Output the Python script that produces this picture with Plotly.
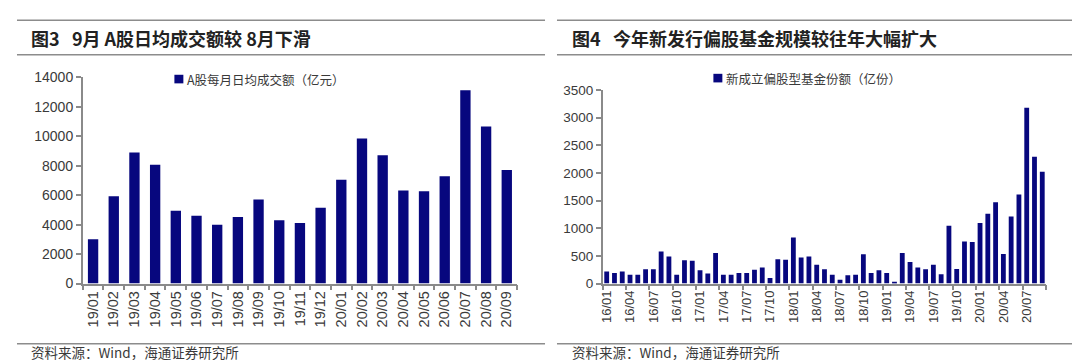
import plotly.graph_objects as go

# ---- Left chart data: A股每月日均成交额（亿元）
left_months = ["19/01", "19/02", "19/03", "19/04", "19/05", "19/06", "19/07", "19/08",
               "19/09", "19/10", "19/11", "19/12", "20/01", "20/02", "20/03", "20/04",
               "20/05", "20/06", "20/07", "20/08", "20/09"]
left_values = [3005, 5925, 8910, 8070, 4950, 4610, 4000, 4520, 5710, 4300, 4110,
               5150, 7050, 9860, 8720, 6315, 6275, 7290, 13130, 10660, 7720]
left_series_name = "A股每月日均成交额（亿元）"
left_title = "图3\u00a0\u00a0\u00a09月\u00a0A股日均成交额较\u00a08月下滑"

# ---- Right chart data: 新成立偏股型基金份额（亿份）
right_months = [f"{y}/{m:02d}" for y in (16, 17, 18, 19) for m in range(1, 13)] + \
               [f"20/{m:02d}" for m in range(1, 10)]
right_values = [220, 190, 220, 160, 160, 260, 260, 580, 490, 160, 420, 410,
                240, 180, 550, 160, 160, 190, 190, 250, 290, 100, 440, 430,
                830, 470, 490, 340, 260, 160, 70, 150, 160, 530, 190, 240,
                190, 20, 550, 390, 290, 260, 340, 170, 1045, 265, 760, 750,
                1095, 1260, 1470, 535, 1210, 1610, 3175, 2290, 2020]
right_series_name = "新成立偏股型基金份额（亿份）"
right_title = "图4\u00a0\u00a0\u00a0今年新发行偏股基金规模较往年大幅扩大"
source_text = "资料来源：Wind，海通证券研究所"

W, H = 1080, 360
BAR = "#07077e"
AX = "#8a8a8a"
TXT = "#3a3a3a"
CJK = "Noto Sans CJK SC"
NUM = "Liberation Sans, Arial, sans-serif"

def px(x):
    return x / W

def py(y):
    return 1 - y / H

fig = go.Figure()
fig.add_trace(go.Bar(x=list(range(len(left_values))), y=left_values, name=left_series_name,
                     marker=dict(color=BAR, line=dict(width=0)), xaxis="x", yaxis="y",
                     showlegend=False, width=0.5))
fig.add_trace(go.Bar(x=list(range(len(right_values))), y=right_values, name=right_series_name,
                     marker=dict(color=BAR, line=dict(width=0)), xaxis="x2", yaxis="y2",
                     showlegend=False, width=0.62))

common_x = dict(showgrid=False, zeroline=False, showline=True, linecolor=AX, linewidth=1.5,
                tickangle=-90, ticks="", tickcolor=AX)
common_y = dict(showgrid=False, zeroline=False, showline=True, linecolor=AX, linewidth=1.5,
                ticks="outside", ticklen=5, tickcolor=AX, tickwidth=1.5, tickformat="d")

left_ticks = list(range(len(left_months)))
right_ticks = list(range(0, len(right_months), 3))

fig.update_layout(
    width=W, height=H, margin=dict(l=0, r=0, t=0, b=0),
    paper_bgcolor="white", plot_bgcolor="white", bargap=0.5,
    xaxis=dict(domain=[px(71), px(507)], range=[-0.5, len(left_months) - 0.5],
               tickvals=left_ticks, ticktext=left_months,
               tickfont=dict(family=NUM, size=14.5, color=TXT),
               minor=dict(tickvals=[i - 0.5 for i in range(len(left_months) + 1)],
                          ticks="outside", ticklen=5, tickcolor=AX, tickwidth=1.5),
               anchor="y", **common_x),
    yaxis=dict(domain=[py(280), py(64.3)], range=[0, 14000], dtick=2000,
               tickfont=dict(family=NUM, size=14, color=TXT), anchor="x", **common_y),
    xaxis2=dict(domain=[px(593), px(1038)], range=[-0.5, len(right_months) - 0.5],
                tickvals=right_ticks, ticktext=[right_months[i] for i in right_ticks],
                tickfont=dict(family=NUM, size=13, color=TXT),
                minor=dict(tickvals=[i - 0.5 for i in range(0, len(right_months) + 1, 3)],
                           ticks="outside", ticklen=5, tickcolor=AX, tickwidth=1.5),
                anchor="y2", **common_x),
    yaxis2=dict(domain=[py(280), py(77.3)], range=[0, 3500], dtick=500,
                tickfont=dict(family=NUM, size=13.5, color=TXT), anchor="x2", **common_y),
)

shapes = []
annotations = []
for (x0, x1) in [(5, 535), (547, 1075)]:
    for yy in (4.5, 40.5, 343):
        shapes.append(dict(type="line", xref="paper", yref="paper", x0=px(x0), x1=px(x1),
                           y0=py(yy), y1=py(yy), line=dict(color="#8c8c8c", width=1.5)))

# titles
annotations.append(dict(text="<b>" + left_title + "</b>", x=px(17), y=py(22.5), xref="paper", yref="paper",
                        xanchor="left", yanchor="middle", showarrow=False,
                        font=dict(family=CJK, size=18, color="#222222")))
annotations.append(dict(text="<b>" + right_title + "</b>", x=px(560), y=py(22.5), xref="paper", yref="paper",
                        xanchor="left", yanchor="middle", showarrow=False,
                        font=dict(family=CJK, size=18, color="#222222")))
# sources
for x0 in (17, 560):
    annotations.append(dict(text=source_text, x=px(x0), y=py(351.5), xref="paper", yref="paper",
                            xanchor="left", yanchor="middle", showarrow=False,
                            font=dict(family=CJK, size=13.5, color=TXT)))

# legends (marker square + text)
for (sx, sy, name) in [(163, 66, left_series_name), (704, 65, right_series_name)]:
    shapes.append(dict(type="rect", xref="paper", yref="paper", x0=px(sx), x1=px(sx + 9),
                       y0=py(sy + 4.5), y1=py(sy - 4.5), fillcolor=BAR, line=dict(width=0)))
    annotations.append(dict(text=name, x=px(sx + 11), y=py(sy), xref="paper", yref="paper",
                            xanchor="left", yanchor="middle", showarrow=False,
                            font=dict(family=CJK, size=12.5, color=TXT)))

fig.update_layout(shapes=shapes, annotations=annotations)
fig.write_html("out.html")
